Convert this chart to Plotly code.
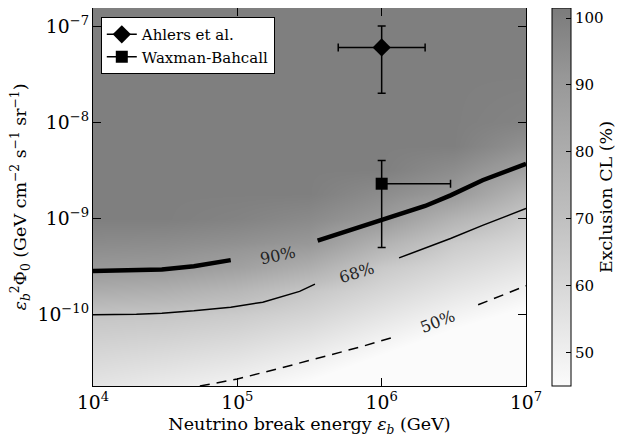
import numpy as np
import plotly.graph_objects as go

# ---------------- data ----------------
# background exclusion-CL grid (values read/estimated from the shading)
grid_x = [1e4, 3.16e4, 1e5, 3.16e5, 1e6, 3.16e6, 1e7]
grid_y = [1.58e-11, 3.98e-11, 1e-10, 1.78e-10, 3.16e-10, 5.62e-10, 1e-9,
          1.78e-9, 3.16e-9, 5.62e-9, 1e-8, 3.16e-8, 1.58e-7]
# rows follow grid_y, columns follow grid_x
cl_grid = [
    [53.6, 50.4, 47.0, 42.4, 36.2, 30.0, 25.0],
    [60.8, 58.9, 56.2, 51.7, 45.4, 39.2, 34.0],
    [68.0, 67.4, 65.3, 61.3, 54.7, 48.4, 43.1],
    [80.0, 78.5, 74.4, 67.3, 60.5, 54.2, 48.9],
    [90.8, 90.2, 86.6, 79.5, 66.4, 59.9, 54.5],
    [95.8, 95.2, 93.6, 91.0, 77.4, 65.7, 60.1],
    [100, 100, 98.6, 96.0, 90.2, 76.3, 65.8],
    [100, 100, 100, 100, 95.2, 90.0, 74.9],
    [100, 100, 100, 100, 100, 95.0, 86.3],
    [100, 100, 100, 100, 100, 100, 93.4],
    [100, 100, 100, 100, 100, 100, 98.4],
    [100, 100, 100, 100, 100, 100, 100],
    [100, 100, 100, 100, 100, 100, 100],
]

# contour lines (None = gap for the label)
c90_x = [1e4, 2e4, 3e4, 5e4, 7e4, 9e4, None, 3.6e5, 5e5, 7e5, 1e6, 2e6, 3e6, 5e6, 1e7]
c90_y = [2.85e-10, 2.9e-10, 2.95e-10, 3.2e-10, 3.45e-10, 3.7e-10, None,
         5.9e-10, 6.9e-10, 8.1e-10, 9.7e-10, 1.35e-9, 1.74e-9, 2.5e-9, 3.7e-9]
c68_x = [1e4, 2e4, 3e4, 5e4, 9e4, 1.5e5, 2.7e5, 3.45e5, None, 1.32e6, 2e6, 3e6, 5e6, 1e7]
c68_y = [1.0e-10, 1.01e-10, 1.04e-10, 1.1e-10, 1.2e-10, 1.35e-10, 1.75e-10, 2.08e-10, None,
         3.9e-10, 4.9e-10, 6.2e-10, 8.5e-10, 1.27e-9]
c50_x = [5.5e4, 1e5, 2e5, 3.7e5, 7e5, 1.28e6, None, 4.66e6, 1e7]
c50_y = [1.82e-11, 2.15e-11, 2.8e-11, 3.56e-11, 4.6e-11, 6.0e-11, None, 1.27e-10, 2.0e-10]

contour_labels = ["90%", "68%", "50%"]
label_x = [1.9e5, 6.8e5, 2.46e6]
label_y = [4.1e-10, 2.74e-10, 8.45e-11]
label_angle = [-12, -17, -21]

# model points
ahlers_x, ahlers_y = [1e6], [6e-8]
ahlers_xlo, ahlers_xhi = [5e5], [1e6]
ahlers_ylo, ahlers_yhi = [4e-8], [4e-8]
wb_x, wb_y = [1e6], [2.3e-9]
wb_xlo, wb_xhi = [0.0], [2e6]
wb_ylo, wb_yhi = [1.8e-9], [1.7e-9]

cb_ticks = [50, 60, 70, 80, 90, 100]
minor_mult = [2, 3, 4, 5, 6, 7, 8, 9]
x_decades = [4, 5, 6]
y_decades = [-11, -10, -9, -8, -7]

FONT = "DejaVu Serif, Liberation Serif, serif"
FS_TICK = 15
FS_TITLE = 17.5
fig = go.Figure()

fig.add_trace(go.Heatmap(
    x=grid_x, y=grid_y, z=cl_grid, zmin=45, zmax=101.5, zsmooth="best",
    colorscale=[[0, "#fbfbfb"], [0.45, "#bfbfbf"], [0.82, "#979797"], [1, "#7b7b7b"]],
    showscale=True, hoverinfo="skip",
    colorbar=dict(
        x=1.06, xanchor="left", xref="paper", xpad=0, ypad=0,
        y=0.5, yanchor="middle", len=1.0, lenmode="fraction",
        thickness=19, outlinecolor="black", outlinewidth=1,
        tickmode="array", tickvals=cb_ticks, ticks="inside", ticklen=5, tickcolor="black",
        ticklabeloverflow="allow",
        tickfont=dict(family=FONT, size=FS_TICK, color="black"),
        title=dict(text="Exclusion CL (%)", side="right",
                   font=dict(family=FONT, size=FS_TITLE, color="black")),
    ),
))

fig.add_trace(go.Scatter(x=c50_x, y=c50_y, mode="lines", showlegend=False, hoverinfo="skip",
                         line=dict(color="black", width=1.5, dash="10px,7px")))
fig.add_trace(go.Scatter(x=c68_x, y=c68_y, mode="lines", showlegend=False, hoverinfo="skip",
                         line=dict(color="black", width=1.5)))
fig.add_trace(go.Scatter(x=c90_x, y=c90_y, mode="lines", showlegend=False, hoverinfo="skip",
                         line=dict(color="black", width=4.5)))

fig.add_trace(go.Scatter(
    x=ahlers_x, y=ahlers_y, mode="lines+markers", name="Ahlers et al.",
    marker=dict(symbol="diamond", size=14, color="black"),
    line=dict(color="black", width=1.5),
    error_x=dict(type="data", symmetric=False, array=ahlers_xhi, arrayminus=ahlers_xlo,
                 color="black", thickness=1.5, width=4),
    error_y=dict(type="data", symmetric=False, array=ahlers_yhi, arrayminus=ahlers_ylo,
                 color="black", thickness=1.5, width=4),
))
fig.add_trace(go.Scatter(
    x=wb_x, y=wb_y, mode="lines+markers", name="Waxman-Bahcall",
    marker=dict(symbol="square", size=12, color="black"),
    line=dict(color="black", width=1.5),
    error_x=dict(type="data", symmetric=False, array=wb_xhi, arrayminus=wb_xlo,
                 color="black", thickness=1.5, width=4),
    error_y=dict(type="data", symmetric=False, array=wb_yhi, arrayminus=wb_ylo,
                 color="black", thickness=1.5, width=4),
))

for t, lx, ly, ang in zip(contour_labels, label_x, label_y, label_angle):
    fig.add_annotation(x=np.log10(lx), y=np.log10(ly), text=t, showarrow=False,
                       textangle=ang, font=dict(family=FONT, size=16, color="#222222"))

x_range = [4, 7]
y_range = [np.log10(1.82e-11), np.log10(1.54e-7)]

axis_common = dict(
    type="log", showgrid=False, zeroline=False, showline=True, linecolor="black", linewidth=1,
    mirror="allticks", ticks="inside", ticklen=8, tickcolor="black", dtick=1,
    exponentformat="power", tickfont=dict(family=FONT, size=FS_TICK, color="black"),
)
fig.update_layout(
    xaxis=dict(**axis_common, range=x_range,
               title=dict(text="Neutrino break energy <i>ε<sub>b</sub></i> (GeV)",
                          font=dict(family=FONT, size=FS_TITLE, color="black"), standoff=6)),
    yaxis=dict(**axis_common, range=y_range,
               title=dict(text="<i>ε</i><sub><i>b</i></sub><sup>2</sup>Φ<sub>0</sub> (GeV cm<sup>−2</sup> s<sup>−1</sup> sr<sup>−1</sup>)",
                          font=dict(family=FONT, size=FS_TITLE, color="black"), standoff=8)),
    # overlay axes carrying only the minor ticks
    xaxis2=dict(type="log", overlaying="x", anchor="y", range=x_range, showgrid=False,
                zeroline=False, showline=False, showticklabels=False, mirror="allticks",
                ticks="inside", ticklen=4, tickcolor="black", tickmode="array",
                tickvals=[m * 10.0 ** d for d in x_decades for m in minor_mult]),
    yaxis2=dict(type="log", overlaying="y", anchor="x", range=y_range, showgrid=False,
                zeroline=False, showline=False, showticklabels=False, mirror="allticks",
                ticks="inside", ticklen=4, tickcolor="black", tickmode="array",
                tickvals=[m * 10.0 ** d for d in y_decades for m in minor_mult]),
)

# the page body adds an 8px offset, so the figure is 8px smaller than the window
fig.update_layout(
    width=624, height=429, margin=dict(l=85, r=106, t=0, b=51, autoexpand=False),
    paper_bgcolor="white", plot_bgcolor="white",
    font=dict(family=FONT, color="black"),
    legend=dict(x=0.018, y=0.976, xanchor="left", yanchor="top", bgcolor="white",
                bordercolor="black", borderwidth=1, font=dict(family=FONT, size=15, color="black"),
                tracegroupgap=0, itemwidth=30),
    showlegend=True,
)

fig.write_html("out.html")
